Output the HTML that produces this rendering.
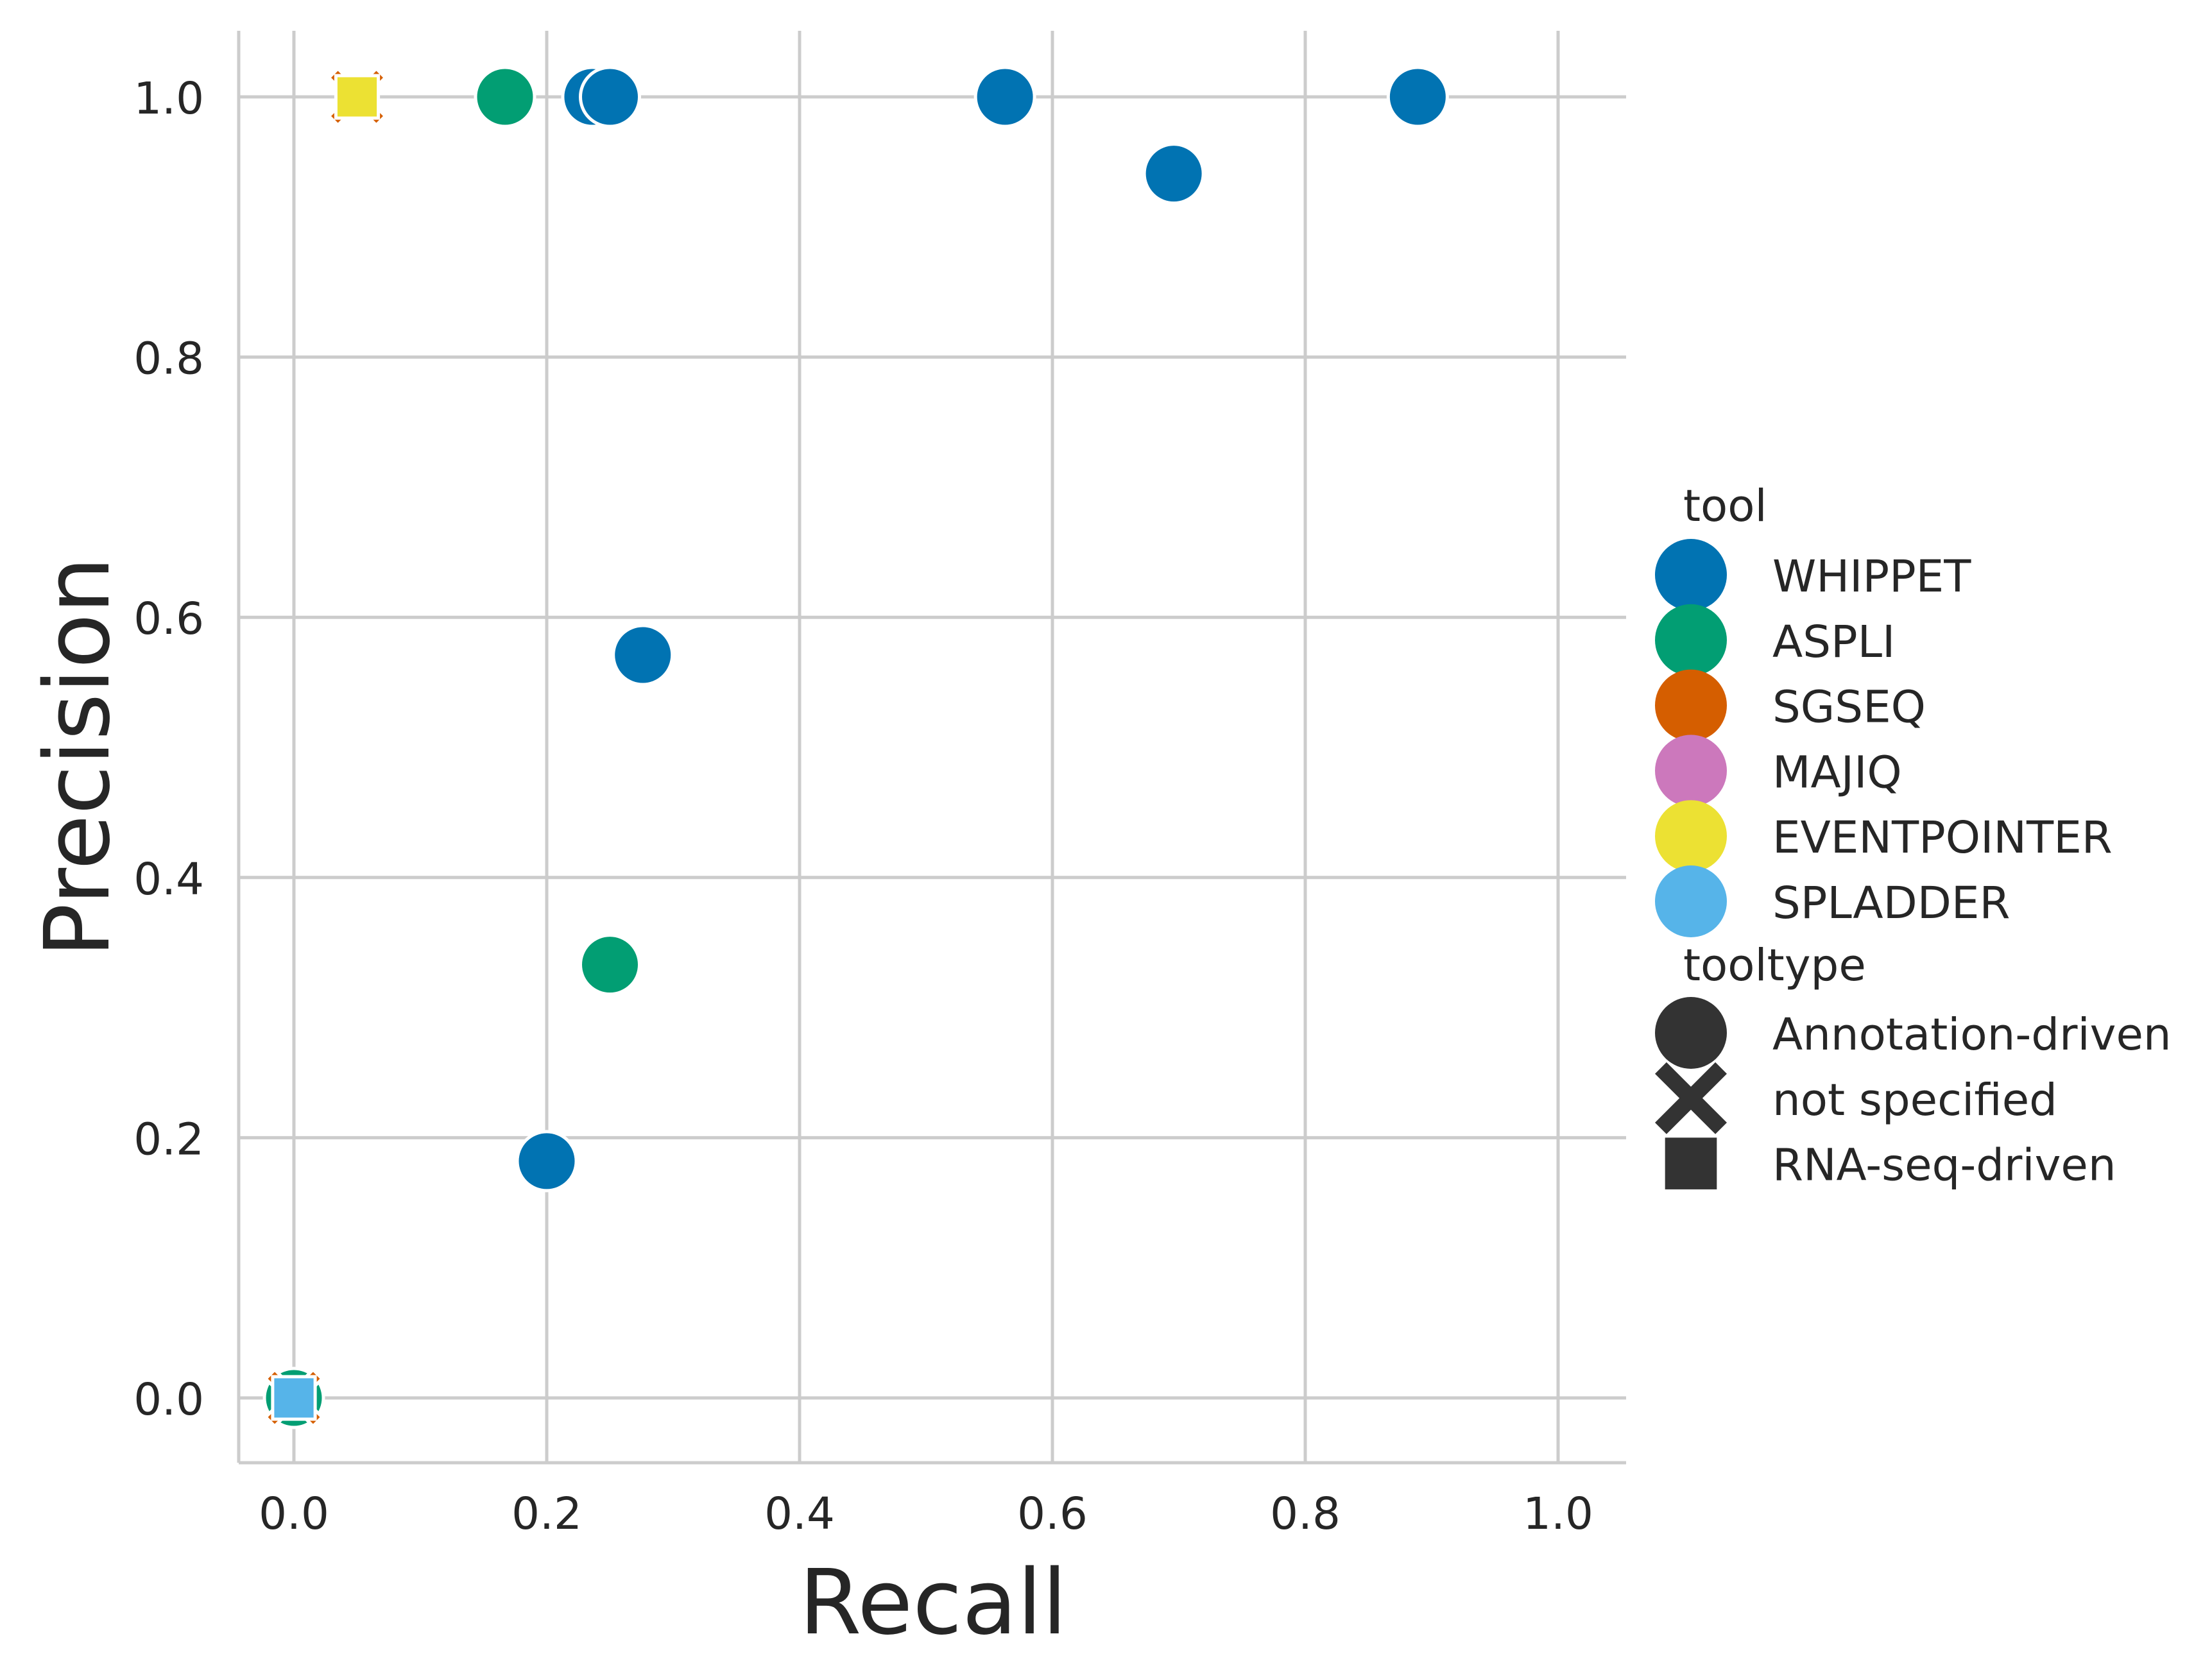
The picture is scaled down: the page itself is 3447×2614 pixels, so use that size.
<!DOCTYPE html>
<html><head><meta charset="utf-8"><style>
html,body{margin:0;padding:0;background:#fff;}
svg text{font-family:"DejaVu Sans","Liberation Sans",sans-serif;fill:#262626;}
</style></head><body>
<svg id="chart" width="3447" height="2609" viewBox="0 0 3447 2609" xmlns="http://www.w3.org/2000/svg">
<g id="grid"></g>
<g id="spines">
<line x1="372" y1="48" x2="372" y2="2280" stroke="#cccccc" stroke-width="5"/>
<line x1="372" y1="2280" x2="2534" y2="2280" stroke="#cccccc" stroke-width="5"/>
</g>
<g id="ticks"></g>
<g id="points"></g>
<text x="1454" y="2546" font-size="140" text-anchor="middle">Recall</text>
<text x="0" y="0" font-size="140" text-anchor="middle" transform="translate(169,1180) rotate(-90)">Precision</text>
<g id="legend"></g>
</svg>
<script>
const xTicks = [0, 0.2, 0.4, 0.6, 0.8, 1.0];
const yTicks = [0, 0.2, 0.4, 0.6, 0.8, 1.0];
const xTickLabels = ["0.0","0.2","0.4","0.6","0.8","1.0"];
const yTickLabels = ["0.0","0.2","0.4","0.6","0.8","1.0"];
const tools = ["WHIPPET","ASPLI","SGSEQ","MAJIQ","EVENTPOINTER","SPLADDER"];
const toolColors = ["#0173b2","#029e73","#d55e00","#cc78bc","#ece133","#56b4e9"];
const toolTypes = ["Annotation-driven","not specified","RNA-seq-driven"];
const pointTool = ["ASPLI","SGSEQ","SPLADDER","SGSEQ","EVENTPOINTER","ASPLI","WHIPPET","WHIPPET","WHIPPET","WHIPPET","WHIPPET","WHIPPET","WHIPPET","ASPLI"];
const pointType = ["Annotation-driven","not specified","RNA-seq-driven","not specified","RNA-seq-driven","Annotation-driven","Annotation-driven","Annotation-driven","Annotation-driven","Annotation-driven","Annotation-driven","Annotation-driven","Annotation-driven","Annotation-driven"];
const recall = [0, 0, 0, 0.05, 0.05, 0.167, 0.236, 0.25, 0.5625, 0.889, 0.696, 0.276, 0.2, 0.25];
const precision = [0, 0, 0, 1.0, 1.0, 1.0, 1.0, 1.0, 1.0, 1.0, 0.941, 0.571, 0.182, 0.333];

const NS = "http://www.w3.org/2000/svg";
const X0 = 458, X1 = 2428, Y0 = 2179, Y1 = 151;
function sx(v){ return X0 + v*(X1-X0); }
function sy(v){ return Y0 - v*(Y0-Y1); }
function mk(tag, attrs, parent){
  const e = document.createElementNS(NS, tag);
  for (const k in attrs) e.setAttribute(k, attrs[k]);
  parent.appendChild(e); return e;
}
const grid = document.getElementById('grid');
xTicks.forEach((t)=>{
  const l = mk('line',{x1:sx(t),x2:sx(t),y1:48,y2:2280,stroke:'#cccccc','stroke-width':5},grid);
  
  
});
yTicks.forEach((t)=>{
  const l = mk('line',{x1:372,x2:2534,y1:sy(t),y2:sy(t),stroke:'#cccccc','stroke-width':5},grid);
  
  
});
const ticks = document.getElementById('ticks');
xTicks.forEach((t,i)=>{
  const e = mk('text',{x:sx(t),y:2383,'font-size':69,'text-anchor':'middle'},ticks);
  e.textContent = xTickLabels[i];
  
  
});
yTicks.forEach((t,i)=>{
  const e = mk('text',{x:318,y:sy(t)+26,'font-size':69,'text-anchor':'end'},ticks);
  e.textContent = yTickLabels[i];
  
  
});
function xPath(cx, cy, r){
  const a = r*0.32, b = r;
  const pts = [[-b,-b+a],[-b+a,-b],[0,-a],[b-a,-b],[b,-b+a],[a,0],[b,b-a],[b-a,b],[0,a],[-b+a,b],[-b,b-a],[-a,0]];
  return 'M'+pts.map(p=>(cx+p[0])+','+(cy+p[1])).join('L')+'Z';
}
function marker(parent, type, cx, cy, size, fill, stroke){
  let e;
  if (type === "Annotation-driven") e = mk('circle',{cx:cx,cy:cy,r:size,fill:fill,stroke:stroke,'stroke-width':5},parent);
  else if (type === "not specified") e = mk('path',{d:xPath(cx,cy,size),fill:fill,stroke:stroke,'stroke-width':5},parent);
  else { const s = size*0.72; e = mk('rect',{x:cx-s,y:cy-s,width:2*s,height:2*s,fill:fill,stroke:stroke,'stroke-width':5},parent); }
  return e;
}
const pts = document.getElementById('points');
recall.forEach((r,i)=>{
  const c = toolColors[tools.indexOf(pointTool[i])];
  const e = marker(pts, pointType[i], sx(r), sy(precision[i]), pointType[i]==="not specified"?44:46, c, '#ffffff');
  
  
});
const leg = document.getElementById('legend');
const t1 = mk('text',{x:2623,y:812,'font-size':69},leg);
t1.textContent = 'tool';


tools.forEach((t,i)=>{
  const cy = 896 + i*101.8;
  const c = mk('circle',{cx:2635,cy:cy,r:56,fill:toolColors[i]},leg);
  
  
  const e = mk('text',{x:2762,y:cy+26,'font-size':69},leg);
  e.textContent = t;
  
  
});
const t2 = mk('text',{x:2623,y:1528,'font-size':69},leg);
t2.textContent = 'tooltype';


toolTypes.forEach((t,i)=>{
  const cy = 1610 + i*101.8;
  const m = marker(leg, t, 2635, cy, 56, '#333333', 'none');
  
  
  const e = mk('text',{x:2762,y:cy+26,'font-size':69},leg);
  e.textContent = t;
  
  
});
</script>
</body></html>
